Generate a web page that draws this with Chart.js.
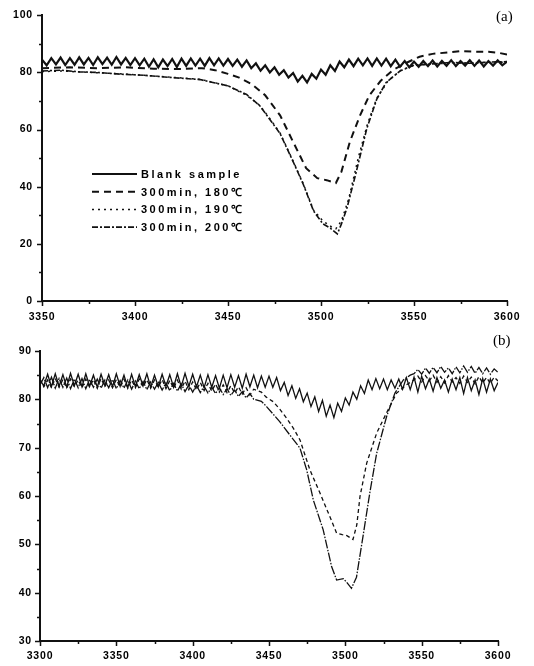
<!DOCTYPE html>
<html>
<head>
<meta charset="utf-8">
<script src="https://cdn.jsdelivr.net/npm/chart.js@4.4.0/dist/chart.umd.min.js"></script>
<style>
  body { margin: 0; background: #fff; }
  #wrap { position: relative; width: 534px; height: 666px; }
  .panel { position: absolute; left: 0; width: 534px; }
  .tag { position: absolute; font-family: "Liberation Serif", "Times New Roman", serif; font-size: 15px; color: #000; }
</style>
</head>
<body>
<div id="wrap">
  <div class="panel" style="top:0;height:330px"><canvas id="chartA" width="534" height="330"></canvas></div>
  <div class="panel" style="top:330px;height:336px"><canvas id="chartB" width="534" height="336"></canvas></div>
  <div class="tag" style="left:496px;top:8px">(a)</div>
  <div class="tag" style="left:493px;top:332px">(b)</div>
</div>
<script>
// regular wavenumber grid for the zigzag (fringe) traces
function grid(start, step, n) {
  const out = [];
  for (let i = 0; i < n; i++) out.push(start + i * step);
  return out;
}

// ---- panel (a) ----
const labelsA = ['Blank sample', '300min, 180\u2103', '300min, 190\u2103', '300min, 200\u2103'];

const blankA_y = [
  84.5, 82.5, 85, 82.8, 85.2, 82.6, 85, 82.7, 85.3, 82.8,
  85.1, 82.6, 85.3, 82.9, 85.2, 82.7, 85.4, 82.8, 85.1, 82.6,
  85, 82.5, 84.8, 82, 84.6, 81.8, 84.5, 82.2, 84.7, 81.9,
  84.8, 82.3, 84.9, 82.4, 84.8, 82.3, 85, 82.5, 84.9, 82.4,
  84.7, 82.3, 84.5, 82, 84.2, 81.5, 83.2, 80.6, 82.5, 80,
  81.8, 79.2, 80.8, 78.2, 79.8, 76.8, 78.8, 76.5, 79.5, 77.8,
  81, 79.2, 82.5, 80.5, 83.8, 81.8, 84.5, 82.2, 84.8, 82.5,
  84.9, 82.3, 84.9, 82.4, 84.8, 82.2, 84.5, 82, 84, 81.8,
  83.8, 82, 84, 82.2, 84.2, 82.1, 84, 82.3, 84.3, 82.2,
  84, 82.4, 84.3, 82.3, 84.2, 82.1, 84, 82.4, 84.2, 82.5,
  83.8
];
const blankA_x = grid(3350, 2.5, blankA_y.length);

const a180_x = [3350, 3365, 3380, 3395, 3410, 3425, 3436, 3443, 3450, 3456, 3463, 3470, 3478, 3485, 3492, 3498, 3503, 3508, 3511, 3515.5, 3521, 3526, 3532, 3539, 3546, 3553, 3560, 3568, 3575, 3582, 3590, 3596, 3600];
const a180_y = [81.5, 81.8, 81.5, 81.8, 81.3, 81.2, 81.5, 80.8, 79.5, 78.2, 75.8, 72, 65, 55.7, 46.5, 43, 42.3, 41.3, 45.3, 55.7, 65, 72, 77, 81, 83.4, 85.5, 86.5, 87, 87.5, 87.3, 87.2, 86.8, 86.3];

const a190_x = [3350, 3360, 3370, 3380, 3392, 3405, 3420, 3435, 3450, 3460, 3467, 3472, 3478, 3485, 3490.5, 3496, 3501, 3505.5, 3508, 3511, 3515, 3520, 3525, 3530, 3536, 3543, 3550, 3560, 3570, 3580, 3590, 3600];
const a190_y = [80.3, 80.5, 80.2, 79.9, 79.5, 79, 78.3, 77.6, 75.3, 72, 68.5, 64.3, 58.8, 49, 41, 31.8, 28, 26, 25.3, 28, 36, 50, 62, 71, 77, 80.8, 82.5, 83, 83.3, 83.3, 83.5, 83.6];

const a200_x = [3350, 3360, 3370, 3380, 3392, 3405, 3420, 3435, 3450, 3460, 3467, 3472, 3478, 3485, 3490.5, 3496, 3501, 3505, 3508.8, 3511, 3514, 3519, 3524.6, 3530, 3535, 3542.5, 3550, 3560, 3570, 3580, 3590, 3600];
const a200_y = [80.5, 80.8, 80.2, 80, 79.4, 79, 78.2, 77.5, 75.3, 72.3, 68.4, 64, 58.6, 48.8, 40.8, 31.5, 27, 25.5, 23.5, 27, 32.6, 45.3, 60.3, 70.7, 76.5, 80.5, 82.5, 83, 83.5, 83.2, 83.6, 83.8];

// ---- panel (b) ----
const labelsB = ['Blank sample', '150min, 180\u2103', '300min, 180\u2103'];

const blankB_y = [
  84.0, 82.8, 85.2, 82.6, 85.3, 82.7, 85.1, 82.5, 85.4, 82.8,
  85.2, 82.6, 85.3, 82.7, 85.0, 82.5, 85.2, 82.8, 85.1, 82.6,
  85.3, 82.7, 85.0, 82.4, 85.2, 82.6, 85.1, 82.8, 85.3, 82.5,
  85.0, 82.6, 85.2, 82.7, 85.1, 82.5, 85.3, 82.6, 85.4, 82.7,
  85.2, 82.6, 85.0, 82.4, 85.1, 82.5, 84.9, 82.3, 85.0, 82.4,
  85.1, 82.5, 84.9, 82.3, 85.2, 82.6, 85.0, 82.4, 84.8, 82.5,
  84.8, 82.5, 84.5, 81.8, 83.5, 80.8, 82.8, 80.2, 82.2, 79.5,
  81.3, 78.5, 80.5, 77.5, 79.8, 76.5, 78.8, 76.2, 79.2, 77.5,
  80.3, 78.8, 81.5, 80, 82.8, 81.2, 84, 82, 84.3, 82.2,
  84.2, 82, 84, 82.3, 84.2, 82.1, 84.5, 82, 84.6, 81.5,
  84.8, 82.2, 84.2, 81.7, 84.5, 82.3, 84, 81.5, 84.2, 82,
  84.5, 81.2, 84.5, 81.8, 84, 81, 84.3, 81.5, 84.2, 81.8,
  83.5
];
const blankB_x = grid(3300, 2.5, blankB_y.length);

// 150 min: fringe part, dip, fringe tail
const b150_headY = [
  84.2, 82.6, 84.0, 82.4, 84.3, 82.5, 84.1, 82.3, 84.2, 82.6,
  84.0, 82.4, 84.2, 82.5, 84.1, 82.3, 84.3, 82.6, 84.0, 82.4,
  84.1, 82.5, 84.2, 82.3, 84.0, 82.4, 84.2, 82.6, 84.1, 82.3,
  84.0, 82.5, 84.1, 82.2, 83.9, 82.3, 84.0, 82.1, 83.8, 82.0,
  83.6, 81.9, 83.5, 81.8, 83.3, 81.7, 83.2, 81.5, 83.0, 81.4,
  82.8, 81.3, 82.6, 81.1, 82.4, 80.9, 82.1
];
const b150_dipX = [3445, 3448, 3452.8, 3457, 3461.5, 3466, 3470.3, 3476.8, 3483.4, 3489.9, 3494.3, 3498, 3501, 3505, 3507.5, 3509.6, 3514, 3520.5, 3527, 3533.6, 3540];
const b150_dipY = [81.5, 80.5, 79.5, 78, 76.1, 74, 71.6, 65.4, 60.6, 55.7, 52.3, 52, 51.8, 51, 54, 59.9, 66.8, 73, 77.2, 81.3, 83];
const b150_tailY = [84.0, 84.8, 83.6, 84.9, 83.8, 85.0, 83.5, 84.7, 83.4, 84.9, 83.6, 84.5, 83.3, 84.8, 83.5, 84.6, 83.2, 84.7, 83.4, 84.5, 83.3, 84.6, 83.8];

// 300 min
const b300_headY = [
  83.0, 84.5, 82.4, 84.6, 82.3, 84.3, 82.5, 84.4, 82.2, 84.2,
  82.4, 84.3, 82.2, 84.1, 82.5, 84.2, 82.3, 84.0, 82.4, 84.1,
  82.2, 83.9, 82.3, 84.0, 82.1, 83.8, 82.2, 83.7, 82.0, 83.6,
  82.1, 83.5, 81.9, 83.4, 81.8, 83.3, 81.7, 83.2, 81.6, 83.0,
  81.5, 82.9, 81.4, 82.7, 81.3, 82.5, 81.2, 82.4, 81.0, 82.2,
  80.8, 81.9, 80.6, 81.6, 80.3, 81.2, 80.0
];
const b300_dipX = [3445, 3448.4, 3457, 3463.7, 3470.3, 3474.7, 3479, 3485.5, 3491, 3494.3, 3498.6, 3500.8, 3504, 3507.3, 3511.6, 3516, 3520.5, 3527, 3532.5, 3538, 3542.5];
const b300_dipY = [79.6, 78.5, 75.4, 72.6, 69.9, 65.4, 59.2, 53, 45.4, 42.6, 42.9, 42.2, 40.9, 43.2, 51.7, 60.6, 68.8, 76.4, 81.3, 84, 85];
const b300_tailY = [85.3, 86.2, 85.2, 86.5, 85.4, 86.6, 85.5, 86.8, 85.6, 86.5, 85.3, 86.7, 85.5, 86.9, 85.6, 86.8, 85.4, 86.6, 85.3, 86.5, 85.2, 86.3, 85.6];

const b150_x = grid(3300, 2.5, b150_headY.length).concat(b150_dipX, grid(3545, 2.5, b150_tailY.length));
const b150_y = b150_headY.concat(b150_dipY, b150_tailY);
const b300_x = grid(3300, 2.5, b300_headY.length).concat(b300_dipX, grid(3545, 2.5, b300_tailY.length));
const b300_y = b300_headY.concat(b300_dipY, b300_tailY);

function pts(xs, ys) {
  return xs.map((x, i) => ({ x: x, y: ys[i] }));
}

const INK = '#111';
const tickFont = { family: '"Liberation Sans", Arial, sans-serif', size: 10.5, weight: 'bold' };

// outward major/minor tick marks, and letter spacing for the tick labels
const axisTicks = {
  id: 'axisTicks',
  beforeDraw(chart) {
    chart.ctx.letterSpacing = '0.8px';
  },
  afterDraw(chart, args, o) {
    const ctx = chart.ctx;
    const xs = chart.scales.x, ys = chart.scales.y;
    ctx.save();
    ctx.strokeStyle = INK;
    ctx.lineWidth = 1.5;
    ctx.beginPath();
    for (let v = xs.min; v <= xs.max; v += o.xMinor) {
      const px = Math.round(xs.getPixelForValue(v)) + 0.5;
      const len = (v - xs.min) % o.xMajor === 0 ? 5 : 3;
      ctx.moveTo(px, xs.top);
      ctx.lineTo(px, xs.top + len);
    }
    for (let v = ys.min; v <= ys.max; v += o.yMinor) {
      const py = Math.round(ys.getPixelForValue(v)) + 0.5;
      const len = (v - ys.min) % o.yMajor === 0 ? 5 : 3;
      ctx.moveTo(ys.right, py);
      ctx.lineTo(ys.right - len, py);
    }
    ctx.stroke();
    ctx.restore();
  }
};

// legend drawn inside the plot
const legendBox = {
  id: 'legendBox',
  afterDraw(chart, args, o) {
    const ctx = chart.ctx;
    ctx.save();
    chart.data.datasets.forEach((ds, i) => {
      const y = o.top + i * o.rowH;
      ctx.strokeStyle = ds.borderColor;
      ctx.lineWidth = ds.borderWidth;
      ctx.setLineDash(ds.borderDash || []);
      ctx.beginPath();
      ctx.moveTo(o.left, y);
      ctx.lineTo(o.left + o.lineLen, y);
      ctx.stroke();
      ctx.setLineDash([]);
      ctx.fillStyle = '#000';
      ctx.font = o.font;
      ctx.letterSpacing = o.spacing;
      ctx.textBaseline = 'middle';
      ctx.textAlign = 'left';
      ctx.fillText(ds.label, o.left + o.lineLen + o.gap, y + 1);
    });
    ctx.restore();
  }
};

function makeChart(id, datasets, c) {
  return new Chart(document.getElementById(id), {
    type: 'line',
    data: { datasets: datasets },
    plugins: [axisTicks, legendBox],
    options: {
      responsive: false,
      animation: false,
      layout: { padding: c.pad },
      elements: { point: { radius: 0 }, line: { tension: 0 } },
      scales: {
        x: {
          type: 'linear', min: c.xMin, max: c.xMax,
          ticks: { stepSize: 50, color: '#000', font: tickFont, padding: c.xPad, maxRotation: 0, autoSkip: false, callback: v => String(v) },
          grid: { drawOnChartArea: false, drawTicks: false },
          border: { color: INK, width: 2 },
          afterFit: s => { s.height = c.xH; }
        },
        y: {
          min: c.yMin, max: c.yMax,
          ticks: { stepSize: c.yStep, color: '#000', font: tickFont, padding: c.yPad, callback: v => String(v) },
          grid: { drawOnChartArea: false, drawTicks: false },
          border: { color: INK, width: 2 },
          afterFit: s => { s.width = c.yW; }
        }
      },
      plugins: {
        legend: { display: false },
        tooltip: { enabled: false },
        axisTicks: c.ticks,
        legendBox: c.legend
      }
    }
  });
}

makeChart('chartA', [
  { label: labelsA[0], data: pts(blankA_x, blankA_y), borderColor: INK, borderWidth: 2.2 },
  { label: labelsA[1], data: pts(a180_x, a180_y), borderColor: INK, borderWidth: 2, borderDash: [7, 5] },
  { label: labelsA[2], data: pts(a190_x, a190_y), borderColor: INK, borderWidth: 1.5, borderDash: [2, 4] },
  { label: labelsA[3], data: pts(a200_x, a200_y), borderColor: INK, borderWidth: 1.6, borderDash: [6, 2, 2, 2] }
], {
  pad: { top: 12, right: 27, left: 0, bottom: 0 },
  xMin: 3350, xMax: 3600, yMin: 0, yMax: 100, yStep: 20,
  xH: 29, yW: 42, xPad: 10, yPad: 9,
  ticks: { xMajor: 50, xMinor: 25, yMajor: 20, yMinor: 10 },
  legend: { left: 92, top: 174, rowH: 17.7, lineLen: 45, gap: 4, font: 'bold 11px "Liberation Sans", Arial, sans-serif', spacing: '2.5px' }
});

makeChart('chartB', [
  { label: labelsB[0], data: pts(blankB_x, blankB_y), borderColor: INK, borderWidth: 1.3 },
  { label: labelsB[1], data: pts(b150_x, b150_y), borderColor: INK, borderWidth: 1.3, borderDash: [4, 3] },
  { label: labelsB[2], data: pts(b300_x, b300_y), borderColor: INK, borderWidth: 1.3, borderDash: [9, 1.5, 1.5, 1.5] }
], {
  pad: { top: 21, right: 36, left: 0, bottom: 0 },
  xMin: 3300, xMax: 3600, yMin: 30, yMax: 90, yStep: 10,
  xH: 25, yW: 40, xPad: 9, yPad: 8,
  ticks: { xMajor: 50, xMinor: 25, yMajor: 10, yMinor: 5 },
  legend: { left: 93, top: 517, rowH: 17.5, lineLen: 44, gap: 10, font: 'bold 11px "Liberation Sans", Arial, sans-serif', spacing: '2.5px' }
});
</script>
</body>
</html>
